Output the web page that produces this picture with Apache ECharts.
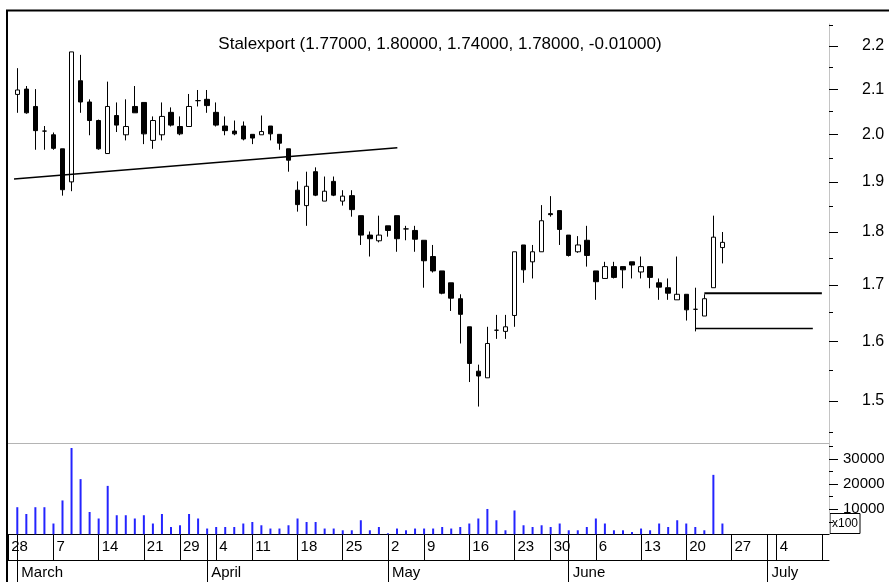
<!DOCTYPE html>
<html>
<head>
<meta charset="utf-8">
<script src="https://cdn.jsdelivr.net/npm/echarts@6/dist/echarts.min.js"></script>
<style>
  html, body { margin: 0; padding: 0; background: #fff; }
  #chart { width: 889px; height: 582px; }
</style>
</head>
<body>
<div id="chart"></div>
<script>
// trading days shown on the axis (Feb 28 and Jun 27 - Jul 11 carry no data)
const dates = [
  '2005-02-28',
  '2005-03-01', '2005-03-02', '2005-03-03', '2005-03-04',
  '2005-03-07', '2005-03-08', '2005-03-09', '2005-03-10', '2005-03-11',
  '2005-03-14', '2005-03-15', '2005-03-16', '2005-03-17', '2005-03-18',
  '2005-03-21', '2005-03-22', '2005-03-23', '2005-03-24',
  '2005-03-29', '2005-03-30', '2005-03-31', '2005-04-01',
  '2005-04-04', '2005-04-05', '2005-04-06', '2005-04-07',
  '2005-04-11', '2005-04-12', '2005-04-13', '2005-04-14', '2005-04-15',
  '2005-04-18', '2005-04-19', '2005-04-20', '2005-04-21', '2005-04-22',
  '2005-04-25', '2005-04-26', '2005-04-27', '2005-04-28', '2005-04-29',
  '2005-05-02', '2005-05-04', '2005-05-05', '2005-05-06',
  '2005-05-09', '2005-05-10', '2005-05-11', '2005-05-12', '2005-05-13',
  '2005-05-16', '2005-05-17', '2005-05-18', '2005-05-19', '2005-05-20',
  '2005-05-23', '2005-05-24', '2005-05-25', '2005-05-27',
  '2005-05-30', '2005-05-31', '2005-06-01', '2005-06-02', '2005-06-03',
  '2005-06-06', '2005-06-07', '2005-06-08', '2005-06-09', '2005-06-10',
  '2005-06-13', '2005-06-14', '2005-06-15', '2005-06-16', '2005-06-17',
  '2005-06-20', '2005-06-21', '2005-06-22', '2005-06-23', '2005-06-24',
  '2005-06-27', '2005-06-28', '2005-06-29', '2005-06-30', '2005-07-01',
  '2005-07-04', '2005-07-05', '2005-07-06', '2005-07-07', '2005-07-08',
  '2005-07-11'
]
const firstDataIdx = 1 // data starts on Mar 1

const open = [
  2.088, 2.100, 2.061, 2.007, 1.999, 1.969, 1.900, 2.119, 2.071, 2.030,
  1.959, 2.041, 1.999, 2.061, 2.070, 1.987, 1.999, 2.048, 2.017, 2.017,
  2.074, 2.077, 2.048, 2.018, 2.007, 2.018, 2.000, 1.999, 2.018, 2.000,
  1.969, 1.883, 1.852, 1.921, 1.861, 1.901, 1.861, 1.872, 1.832, 1.794,
  1.783, 1.812, 1.832, 1.806, 1.803, 1.784, 1.753, 1.726, 1.704, 1.675,
  1.625, 1.549, 1.538, 1.619, 1.617, 1.645, 1.775, 1.743, 1.762, 1.836,
  1.842, 1.794, 1.762, 1.784, 1.726, 1.712, 1.734, 1.734, 1.743, 1.724,
  1.734, 1.704, 1.695, 1.673, 1.683, 1.656, 1.644, 1.695, 1.770
]
const close = [
  2.098, 2.047, 2.008, 2.007, 1.970, 1.884, 2.186, 2.071, 2.030, 1.969,
  2.061, 2.020, 2.017, 2.047, 2.001, 2.030, 2.039, 2.020, 2.001, 2.061,
  2.074, 2.063, 2.020, 2.008, 2.001, 1.990, 1.992, 2.006, 2.001, 1.981,
  1.945, 1.854, 1.891, 1.873, 1.881, 1.873, 1.871, 1.844, 1.794, 1.787,
  1.794, 1.803, 1.787, 1.806, 1.786, 1.745, 1.726, 1.685, 1.676, 1.647,
  1.562, 1.541, 1.596, 1.619, 1.625, 1.762, 1.728, 1.762, 1.822, 1.834,
  1.805, 1.755, 1.775, 1.755, 1.706, 1.734, 1.714, 1.728, 1.737, 1.734,
  1.714, 1.696, 1.685, 1.683, 1.655, 1.656, 1.675, 1.790, 1.780
]
const low = [
  2.047, 2.045, 1.967, 1.967, 1.967, 1.872, 1.881, 2.047, 1.998, 1.967,
  1.959, 2.005, 1.987, 2.047, 1.979, 1.969, 1.987, 2.017, 1.998, 2.017,
  2.061, 2.047, 2.017, 1.998, 1.998, 1.987, 1.979, 1.999, 1.987, 1.967,
  1.921, 1.840, 1.812, 1.871, 1.861, 1.871, 1.852, 1.830, 1.775, 1.753,
  1.780, 1.791, 1.762, 1.784, 1.762, 1.695, 1.723, 1.683, 1.653, 1.596,
  1.531, 1.491, 1.538, 1.604, 1.604, 1.625, 1.704, 1.712, 1.762, 1.830,
  1.775, 1.753, 1.760, 1.734, 1.673, 1.712, 1.712, 1.694, 1.712, 1.712,
  1.694, 1.673, 1.673, 1.673, 1.636, 1.617, 1.644, 1.695, 1.740
]
const high = [
  2.148, 2.107, 2.100, 2.018, 2.004, 1.969, 2.186, 2.179, 2.077, 2.032,
  2.117, 2.070, 2.077, 2.107, 2.070, 2.039, 2.070, 2.059, 2.039, 2.089,
  2.098, 2.098, 2.070, 2.039, 2.030, 2.028, 2.000, 2.041, 2.018, 2.000,
  1.969, 1.901, 1.921, 1.930, 1.911, 1.911, 1.883, 1.883, 1.832, 1.801,
  1.832, 1.812, 1.832, 1.812, 1.812, 1.784, 1.775, 1.726, 1.704, 1.683,
  1.625, 1.560, 1.625, 1.646, 1.646, 1.762, 1.775, 1.775, 1.853, 1.871,
  1.842, 1.794, 1.792, 1.812, 1.726, 1.743, 1.743, 1.734, 1.743, 1.753,
  1.734, 1.712, 1.712, 1.753, 1.683, 1.695, 1.683, 1.832, 1.800
]
// volume in hundreds of shares (axis shows x100)
const volume = [
  10800, 8100, 10800, 10800, 4300, 13500, 34400, 22000, 8900, 6300,
  19300, 7600, 7600, 6300, 7600, 4300, 8100, 2900, 3600, 8100,
  6300, 2300, 2900, 2900, 2900, 4300, 4900, 3600, 2300, 2300,
  3600, 6300, 4900, 4900, 2300, 2300, 1600, 1600, 5600, 1600,
  2900, 400, 2300, 1600, 2300, 2300, 2300, 2900, 2300, 2900,
  4300, 6300, 10100, 5600, 1600, 9500, 3600, 2900, 3600, 2900,
  4300, 1600, 1600, 2900, 6300, 4300, 1600, 1600, 900, 2300,
  1600, 4300, 2900, 5600, 4300, 2900, 1600, 23700, 4300
]

// drawn lines: [axis index, price]
const trendLine = [[0.635, 1.906], [43.04, 1.971]]
const upperLine = [[77, 1.685], [90, 1.685]]
const lowerLine = [[76, 1.622], [89, 1.622]]

const priceTicks = [1.5, 1.6, 1.7, 1.8, 1.9, 2.0, 2.1, 2.2]
const priceMinorTicks = [1.45, 1.55, 1.65, 1.75, 1.85, 1.95, 2.05, 2.15, 2.25]
const volumeTicks = [10000, 20000, 30000]
const volumeMinorTicks = [5000, 15000, 25000, 35000]
const monthNames = ['January', 'February', 'March', 'April', 'May', 'June',
  'July', 'August', 'September', 'October', 'November', 'December']

const FONT = '"Liberation Sans", Arial, sans-serif'
const ln = Math.log

const parts = dates.map(d => d.split('-').map(Number))
const weekDay = parts.map(p => new Date(Date.UTC(p[0], p[1] - 1, p[2])).getUTCDay())
// first trading day of every week / month
const weekStarts = dates.map((d, i) => i).filter(i => i === 0 || weekDay[i] < weekDay[i - 1])
const monthStarts = dates.map((d, i) => i).filter(i => i > 0 && parts[i][1] !== parts[i - 1][1])
const weekLabels = weekStarts.filter(i => i < dates.length - 1)

const candleData = open.map((o, k) => [k + firstDataIdx, ln(o), ln(close[k]), ln(low[k]), ln(high[k])])
const volumeData = volume.map((v, k) => [k + firstDataIdx, v])
const toLn = arr => arr.map(p => [p[0], ln(p[1])])

const last = open.length - 1
const change = close[last] - close[last - 1]
const titleText = 'Stalexport (' + [open[last], high[last], low[last], close[last], change]
  .map(v => v.toFixed(5)).join(', ') + ')'

const xMin = -0.139
const xMax = 90.79
const priceMin = ln(1.43355)
const priceMax = ln(2.2528)

const chart = echarts.init(document.getElementById('chart'))

const hiddenLine = { show: false, onZero: false }

chart.setOption({
  animation: false,
  backgroundColor: '#fff',
  textStyle: { fontFamily: FONT },
  title: {
    text: titleText,
    left: 435,
    top: 31,
    textAlign: 'center',
    textStyle: { fontFamily: FONT, fontSize: 17, fontWeight: 'normal', color: '#000' }
  },
  grid: [
    { left: 7, right: 60, top: 24, height: 419 },
    { left: 7, right: 60, top: 443, bottom: 47.7 }
  ],
  xAxis: [
    {
      type: 'value', gridIndex: 0, position: 'bottom', min: xMin, max: xMax,
      axisLine: { show: true, onZero: false, lineStyle: { color: '#b4b4b4', width: 1 } },
      axisTick: { show: false }, axisLabel: { show: false }, splitLine: { show: false }
    },
    {
      type: 'value', gridIndex: 1, position: 'bottom', min: xMin, max: xMax,
      axisLine: { show: true, onZero: false, lineStyle: { color: '#000', width: 1 } },
      axisTick: { show: true, length: 26, customValues: weekStarts, lineStyle: { color: '#000' } },
      axisLabel: {
        customValues: weekLabels, align: 'left', margin: 5, padding: [0, 0, 0, 3],
        fontSize: 15, color: '#000', fontFamily: FONT,
        formatter: v => String(parts[Math.round(v)][2])
      },
      splitLine: { show: false }
    },
    {
      type: 'value', gridIndex: 1, position: 'bottom', min: xMin, max: xMax,
      axisLine: hiddenLine,
      axisTick: { show: true, length: 48, customValues: monthStarts, lineStyle: { color: '#000' } },
      axisLabel: {
        customValues: monthStarts, align: 'left', margin: 31, padding: [0, 0, 0, 4],
        fontSize: 15, color: '#000', fontFamily: FONT,
        formatter: v => monthNames[parts[Math.round(v)][1] - 1]
      },
      splitLine: { show: false }
    },
    {
      type: 'value', gridIndex: 1, position: 'bottom', min: xMin, max: xMax, offset: 25.7,
      axisLine: { show: true, onZero: false, lineStyle: { color: '#000', width: 1 } },
      axisTick: { show: false }, axisLabel: { show: false }, splitLine: { show: false }
    }
  ],
  yAxis: [
    {
      type: 'value', gridIndex: 0, position: 'right', min: priceMin, max: priceMax,
      axisLine: { show: true, onZero: false, lineStyle: { color: '#c4c4c4' } },
      axisTick: { show: true, length: 9, customValues: priceTicks.map(ln), lineStyle: { color: '#000' } },
      axisLabel: {
        customValues: priceTicks.map(ln), margin: 33, fontSize: 16, color: '#000', fontFamily: FONT,
        formatter: v => Math.exp(v).toFixed(1)
      },
      splitLine: { show: false }
    },
    {
      type: 'value', gridIndex: 0, position: 'right', min: priceMin, max: priceMax,
      axisLine: hiddenLine,
      axisTick: { show: true, length: 4, customValues: priceMinorTicks.map(ln), lineStyle: { color: '#000' } },
      axisLabel: { show: false }, splitLine: { show: false }
    },
    {
      type: 'value', gridIndex: 1, position: 'right', min: 0, max: 36400,
      axisLine: { show: true, onZero: false, lineStyle: { color: '#c4c4c4' } },
      axisTick: { show: true, length: 9, customValues: volumeTicks, lineStyle: { color: '#000' } },
      axisLabel: {
        customValues: volumeTicks, margin: 14, fontSize: 15, color: '#000', fontFamily: FONT,
        formatter: v => String(v)
      },
      splitLine: { show: false }
    },
    {
      type: 'value', gridIndex: 1, position: 'right', min: 0, max: 36400,
      axisLine: hiddenLine,
      axisTick: { show: true, length: 4, customValues: volumeMinorTicks, lineStyle: { color: '#000' } },
      axisLabel: { show: false }, splitLine: { show: false }
    }
  ],
  series: [
    {
      type: 'candlestick', xAxisIndex: 0, yAxisIndex: 0,
      encode: { x: 0, y: [1, 2, 3, 4] },
      data: candleData,
      barWidth: 5,
      itemStyle: { color: '#fff', color0: '#000', borderColor: '#000', borderColor0: '#000', borderWidth: 1 }
    },
    {
      type: 'line', xAxisIndex: 0, yAxisIndex: 0, data: toLn(trendLine),
      symbol: 'none', lineStyle: { color: '#000', width: 1.5 }
    },
    {
      type: 'line', xAxisIndex: 0, yAxisIndex: 0, data: toLn(upperLine),
      symbol: 'none', lineStyle: { color: '#000', width: 2 }
    },
    {
      type: 'line', xAxisIndex: 0, yAxisIndex: 0, data: toLn(lowerLine),
      symbol: 'none', lineStyle: { color: '#000', width: 1.5 }
    },
    {
      type: 'bar', xAxisIndex: 1, yAxisIndex: 2, data: volumeData,
      barWidth: 2, itemStyle: { color: '#2424ff' }
    }
  ],
  graphic: [
    { type: 'line', shape: { x1: 6, y1: 10.5, x2: 889, y2: 10.5 }, style: { stroke: '#000', lineWidth: 2 }, z: 100 },
    { type: 'line', shape: { x1: 7, y1: 10, x2: 7, y2: 582 }, style: { stroke: '#000', lineWidth: 2 }, z: 100 },
    {
      type: 'group', left: 829.5, top: 513, z: 100,
      children: [
        { type: 'rect', shape: { x: 0, y: 0, width: 30, height: 20 }, style: { fill: '#fff', stroke: '#000', lineWidth: 1 } },
        { type: 'text', x: 15, y: 10, style: { text: 'x100', fontSize: 12, fontFamily: FONT, fill: '#000', align: 'center', verticalAlign: 'middle' } }
      ]
    }
  ]
})
</script>
</body>
</html>
